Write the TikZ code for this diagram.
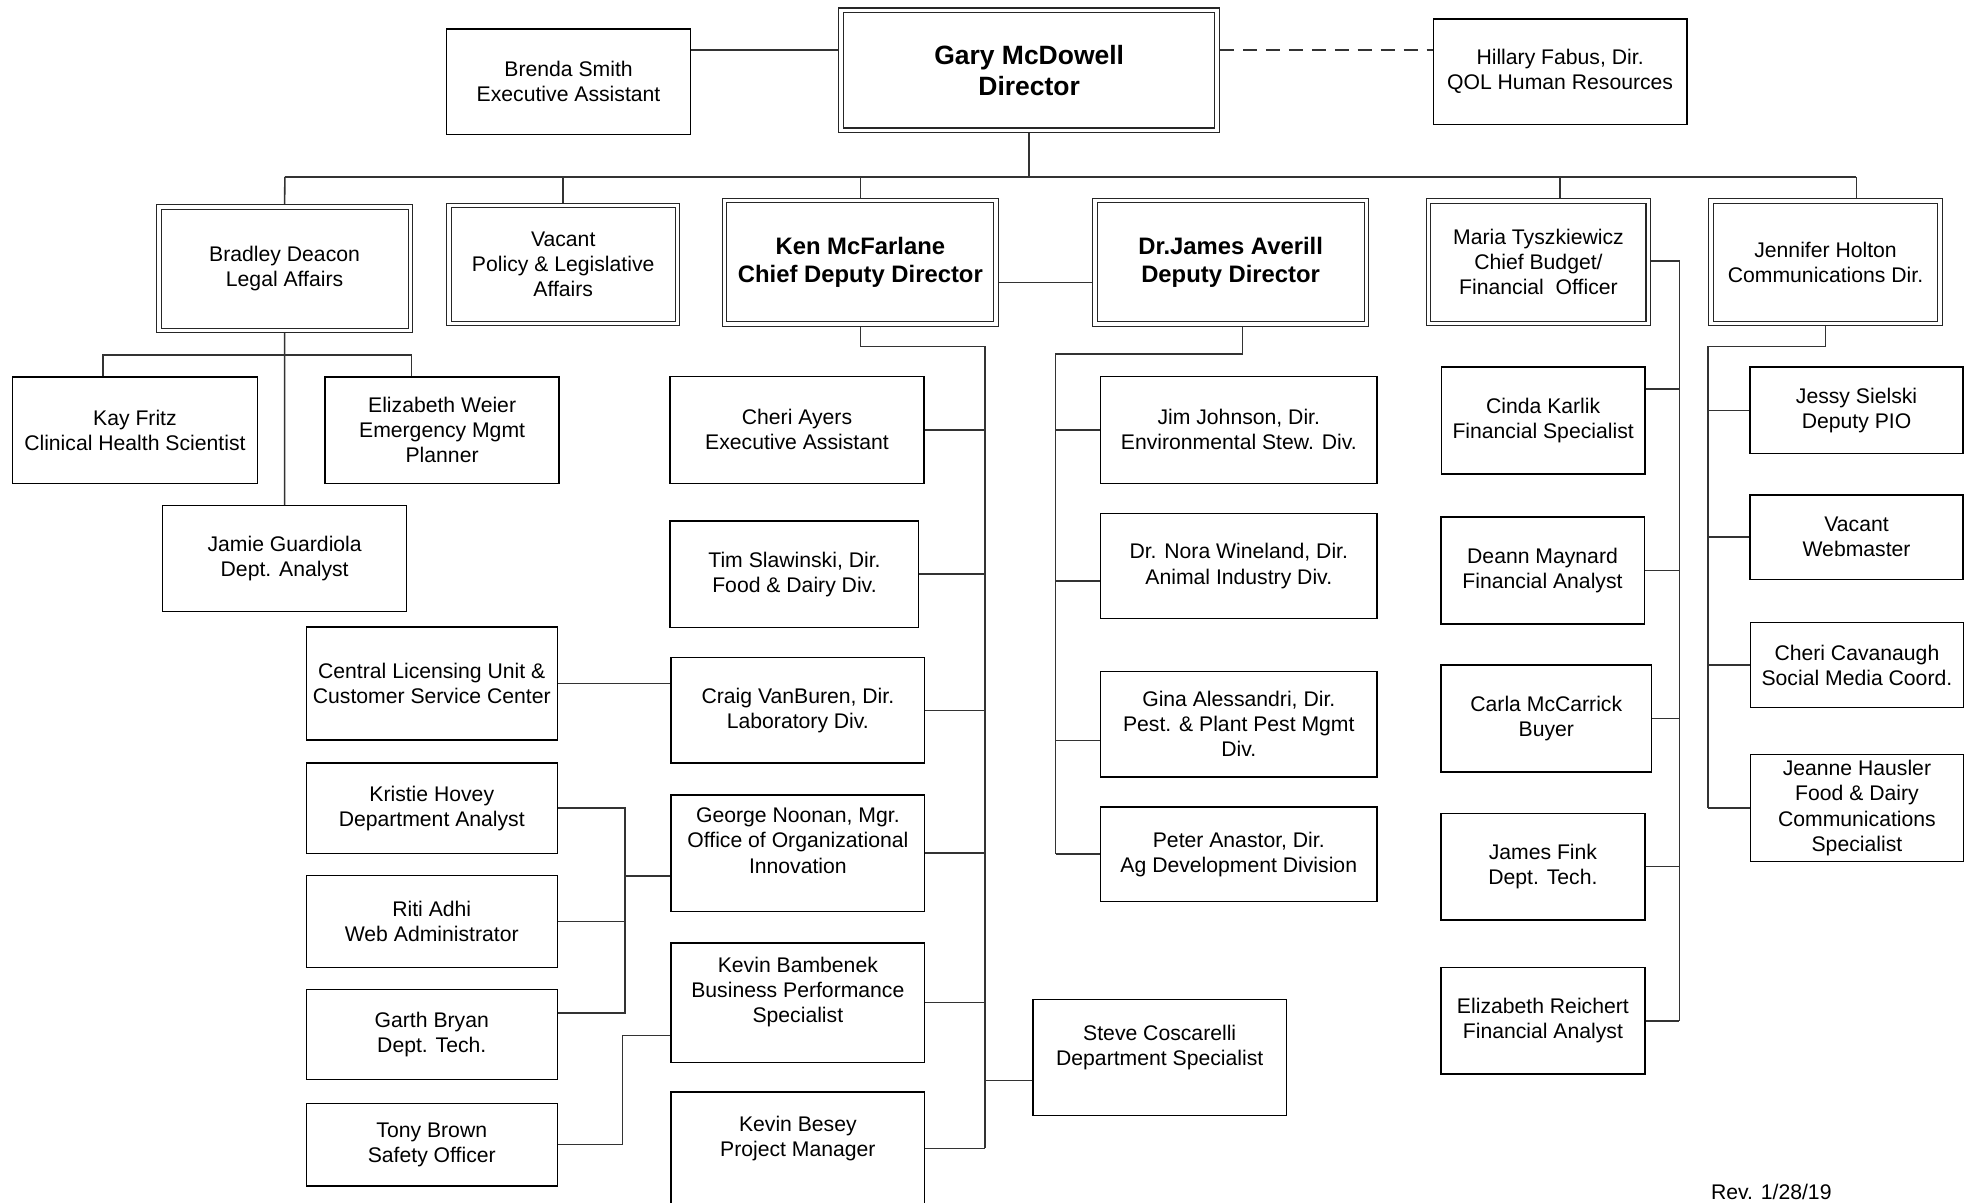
\documentclass[tikz,border=0pt]{standalone}
\usepackage{fontspec}
\setmainfont{Liberation Sans}
\begin{document}
\begin{tikzpicture}[x=0.025cm, y=-0.025cm]
% Styles
\tikzset{
box/.style={draw, line width=0.8pt, rectangle, align=center, inner sep=1pt, font=\fontsize{12}{14.2}\selectfont},
head/.style={box, draw=black!85, line width=0.6pt, double, double distance=2pt, outer sep=1.6pt},
boss/.style={head, font=\fontsize{13.5}{16.3}\selectfont\bfseries},
link/.style={draw=black!80, line width=0.9pt}
}
\useasboundingbox (0,0) rectangle (1568,958);
% Direction
\node[boss, font=\fontsize{15}{17.8}\selectfont\bfseries, minimum width=7.49cm, minimum height=2.39cm] (gary) at (820,56) {Gary McDowell\\Director};
\node[box, minimum width=4.85cm, minimum height=2.1cm] (brenda) at (453,65) {Brenda Smith\\Executive Assistant};
\node[box, minimum width=5.05cm, minimum height=2.1cm] (hillary) at (1243,57) {Hillary Fabus, Dir.\\QOL Human Resources};
% Second row
\node[head, minimum width=5.01cm, minimum height=2.46cm] (bradley) at (226.75,214) {Bradley Deacon\\Legal Affairs};
\node[head, minimum width=4.55cm, minimum height=2.35cm] (policy) at (448.75,210.75) {Vacant\\Policy \& Legislative\\Affairs};
\node[boss, minimum width=5.41cm, minimum height=2.46cm] (ken) at (685.5,209) {Ken McFarlane\\Chief Deputy Director};
\node[boss, minimum width=5.41cm, minimum height=2.46cm] (averill) at (980.5,209) {Dr.James Averill\\Deputy Director};
\node[head, minimum width=4.375cm, minimum height=2.44cm] (maria) at (1225.75,209) {Maria Tyszkiewicz\\Chief Budget/\\Financial\ \ Officer};
\node[head, minimum width=4.56cm, minimum height=2.44cm] (jennifer) at (1454.5,209) {Jennifer Holton\\Communications Dir.};
% Legal affairs
\node[box, minimum width=4.875cm, minimum height=2.125cm] (kay) at (107.5,342.75) {Kay Fritz\\Clinical Health Scientist};
\node[box, minimum width=4.66cm, minimum height=2.125cm] (weier) at (352.25,342.75) {Elizabeth Weier\\Emergency Mgmt\\Planner};
\node[box, minimum width=4.86cm, minimum height=2.1cm] (jamie) at (226.8,445) {Jamie Guardiola\\Dept. Analyst};
% Chief deputy director
\node[box, minimum width=5.05cm, minimum height=2.125cm] (ayers) at (635,342.5) {Cheri Ayers\\Executive Assistant};
\node[box, minimum width=4.95cm, minimum height=2.125cm] (slawinski) at (633,457.5) {Tim Slawinski, Dir.\\Food \& Dairy Div.};
\node[box, minimum width=5.05cm, minimum height=2.1cm] (vanburen) at (635.7,566) {Craig VanBuren, Dir.\\Laboratory Div.};
\node[box, minimum width=5.05cm, minimum height=2.315cm] (noonan) at (635.7,679.7) {George Noonan, Mgr.\\Office of Organizational\\Innovation\\~};
\node[box, minimum width=5.05cm, minimum height=2.375cm] (bambenek) at (635.7,798.8) {Kevin Bambenek\\Business Performance\\Specialist\\~};
\node[box, minimum width=5.05cm, minimum height=2.25cm] (besey) at (635.7,915) {Kevin Besey\\Project Manager\\~};
\node[box, minimum width=5.05cm, minimum height=2.315cm] (coscarelli) at (924,842.5) {Steve Coscarelli\\Department Specialist\\~};
\node[box, minimum width=5cm, minimum height=2.25cm] (licensing) at (344,544.5) {Central Licensing Unit \&\\Customer Service Center};
\node[box, minimum width=5cm, minimum height=1.8cm] (hovey) at (344,644) {Kristie Hovey\\Department Analyst};
\node[box, minimum width=5cm, minimum height=1.835cm] (adhi) at (344,734.3) {Riti Adhi\\Web Administrator};
\node[box, minimum width=5cm, minimum height=1.8cm] (bryan) at (344,824.3) {Garth Bryan\\Dept. Tech.};
\node[box, minimum width=5cm, minimum height=1.65cm] (brown) at (344,912) {Tony Brown\\Safety Officer};
% Deputy director
\node[box, minimum width=5.5cm, minimum height=2.125cm] (johnson) at (987,342.5) {Jim Johnson, Dir.\\Environmental Stew. Div.};
\node[box, minimum width=5.5cm, minimum height=2.1cm] (wineland) at (987,451) {Dr. Nora Wineland, Dir.\\Animal Industry Div.};
\node[box, minimum width=5.5cm, minimum height=2.1cm] (alessandri) at (987,577) {Gina Alessandri, Dir.\\Pest. \& Plant Pest Mgmt\\Div.};
\node[box, minimum width=5.5cm, minimum height=1.875cm] (anastor) at (987,680.6) {Peter Anastor, Dir.\\Ag Development Division};
% Budget
\node[box, minimum width=4.06cm, minimum height=2.125cm] (karlik) at (1229.5,335) {Cinda Karlik\\Financial Specialist};
\node[box, minimum width=4.05cm, minimum height=2.125cm] (maynard) at (1229,454.5) {Deann Maynard\\Financial Analyst};
\node[box, minimum width=4.2cm, minimum height=2.125cm] (mccarrick) at (1232,572.5) {Carla McCarrick\\Buyer};
\node[box, minimum width=4.065cm, minimum height=2.125cm] (fink) at (1229.3,690.5) {James Fink\\Dept. Tech.};
\node[box, minimum width=4.065cm, minimum height=2.125cm] (reichert) at (1229.3,813.3) {Elizabeth Reichert\\Financial Analyst};
% Communications
\node[box, minimum width=4.24cm, minimum height=1.725cm] (sielski) at (1479.2,327) {Jessy Sielski\\Deputy PIO};
\node[box, minimum width=4.24cm, minimum height=1.675cm] (webmaster) at (1479.2,428) {Vacant\\Webmaster};
\node[box, minimum width=4.24cm, minimum height=1.69cm] (cavanaugh) at (1479.5,530) {Cheri Cavanaugh\\Social Media Coord.};
\node[box, minimum width=4.24cm, minimum height=2.13cm] (hausler) at (1479.5,643.8) {Jeanne Hausler\\Food \& Dairy\\Communications\\Specialist};
\node[anchor=base west, inner sep=0pt, font=\fontsize{12}{14.2}\selectfont] (rev) at (1363,956) {Rev. 1/28/19};
% Lines from the director
\coordinate (toprow) at (0,40);
\coordinate (bus) at (0,141);
\coordinate (busL) at (227,141);
\coordinate (busR) at (1479,141);
\coordinate (mariaj) at (1243,141);
\draw[link] (brenda.east |- toprow) -- (gary.west |- toprow);
\draw[link, dash pattern=on 8pt off 5pt] (gary.east |- toprow) -- (hillary.west |- toprow);
\draw[link] (gary.south) -- (gary.south |- bus);
\draw[link] (busL) -- (busR);
\draw[link] (busL) -- (bradley.north);
\draw[link] (policy.north |- bus) -- (policy.north);
\draw[link] (ken.north |- bus) -- (ken.north);
\draw[link] (mariaj) -- (mariaj |- maria.north);
\draw[link] (busR) -- (busR |- jennifer.north);
% Legal affairs
\coordinate (kayj) at (82,283);
\coordinate (weierj) at (328,283);
\draw[link] (bradley.south) -- (jamie.north);
\draw[link] (kayj |- kay.north) -- (kayj) -- (weierj) -- (weierj |- weier.north);
% Chief deputy
\coordinate (kenav) at (0,225);
\coordinate (kenj) at (785,276);
\coordinate (steveh) at (0,861);
\draw[link] (ken.east |- kenav) -- (averill.west |- kenav);
\draw[link] (ken.south) |- (kenj) -- (kenj |- besey.east);
\foreach \n in {ayers, slawinski, vanburen, noonan, bambenek, besey}
  \draw[link] (\n.east) -- (\n.east -| kenj);
\draw[link] (kenj |- steveh) -- (coscarelli.west |- steveh);
\coordinate (grpj) at (498,698);
\coordinate (bryanj) at (498,807);
\coordinate (brownj) at (496,825);
\draw[link] (licensing.east) -- (licensing.east -| vanburen.west);
\draw[link] (hovey.east) -| (grpj) -- (grpj -| noonan.west);
\draw[link] (adhi.east) -- (adhi.east -| grpj);
\draw[link] (bryan.east |- bryanj) -- (bryanj) -- (grpj);
\draw[link] (brown.east) -| (brownj) -- (brownj -| bambenek.west);
% Deputy director
\coordinate (avdrop) at (990,282);
\coordinate (avj) at (841,282);
\coordinate (winh) at (0,463);
\coordinate (ginah) at (0,590);
\draw[link] (avdrop |- averill.south) -- (avdrop) -- (avj) -- (avj |- anastor.west);
\draw[link] (johnson.west) -- (johnson.west -| avj);
\draw[link] (avj |- winh) -- (wineland.west |- winh);
\draw[link] (avj |- ginah) -- (alessandri.west |- ginah);
\draw[link] (anastor.west) -- (anastor.west -| avj);
% Budget
\coordinate (marj) at (1338,208);
\coordinate (karh) at (0,310);
\draw[link] (maria.east |- marj) -- (marj) -- (marj |- reichert.east);
\draw[link] (karlik.east |- karh) -- (marj |- karh);
\foreach \n in {maynard, mccarrick, fink, reichert}
  \draw[link] (\n.east) -- (\n.east -| marj);
% Communications
\coordinate (jenj) at (1361,276);
\draw[link] (jennifer.south) |- (jenj) -- (jenj |- hausler.west);
\foreach \n in {sielski, webmaster, cavanaugh, hausler}
  \draw[link] (\n.west) -- (\n.west -| jenj);
\end{tikzpicture}
\end{document}
